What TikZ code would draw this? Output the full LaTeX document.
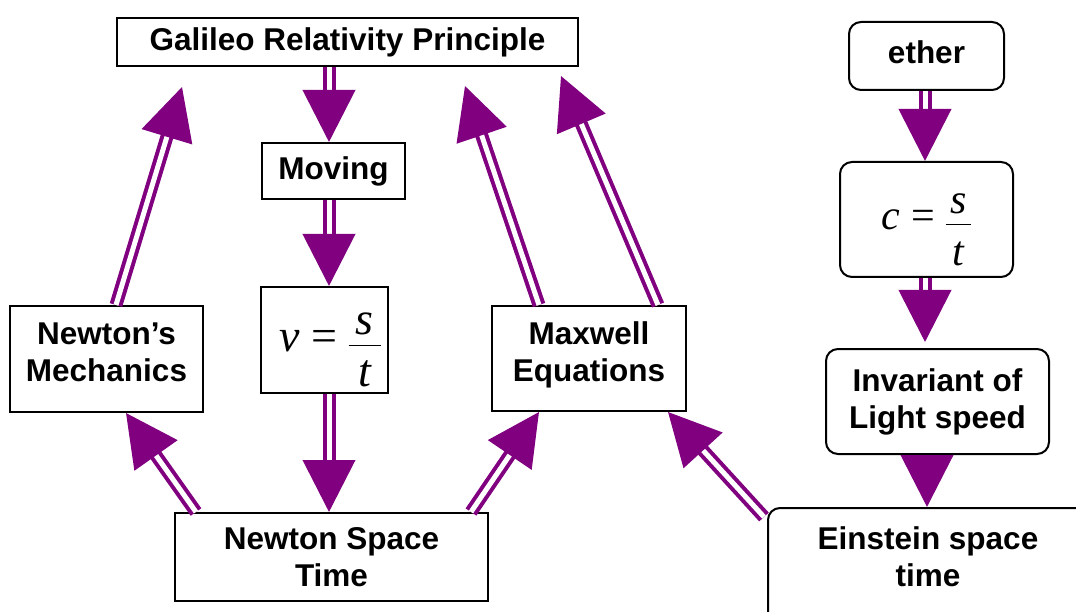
\documentclass[tikz,border=0pt]{standalone}
\usepackage{fontspec}
\setmainfont{Liberation Sans}
\newfontfamily\tms{Liberation Serif}
\usetikzlibrary{arrows.meta}
\definecolor{purp}{HTML}{800080}
\newcommand\myFrac[2]{$\displaystyle\frac{\hbox to #2{\hss\tms\itshape s\hss}}{\hbox to #2{\hss\rule{0pt}{#1}\tms\itshape t\hss}}$}
\begin{document}
\begin{tikzpicture}[x=1pt,y=-1pt,
  box/.style={draw=black, line width=2pt, fill=white, inner sep=0pt, align=center,
    font=\fontsize{31.5}{37}\selectfont\bfseries},
  rbox/.style={box, rounded corners=12pt},
  mbox/.style={draw=black, line width=2pt, fill=white, inner sep=0pt},
  arr/.style={draw=purp, line width=4pt, double=white, double distance=5pt,
    -{Triangle[length=52pt,width=52pt]}}]
\clip (0,0) rectangle (1076,612);
\fill[white] (0,0) rectangle (1076,612);
\node[box, minimum width=461pt, minimum height=48pt] (gal) at (347.5,42) {Galileo Relativity Principle\rule[-4pt]{0pt}{0pt}};
\node[box, minimum width=143pt, minimum height=56pt] (mov) at (333.5,171) {Moving\rule[-3pt]{0pt}{0pt}};
\node[mbox, minimum width=127pt, minimum height=106pt, text height=61pt, text depth=38pt,
  font=\fontsize{46}{52}\selectfont] (vst) at (324.5,340)
  {\hspace*{12pt}{\tms\itshape v}\hspace{12pt}{\tms =}\hspace{10pt}\myFrac{40pt}{32pt}};
\node[box, minimum width=193pt, minimum height=106pt] (nm) at (106.5,359) {Newton’s\\Mechanics\rule[-14pt]{0pt}{0pt}};
\node[box, minimum width=194pt, minimum height=105pt] (mx) at (589,358.5) {Maxwell\\Equations\rule[-14pt]{0pt}{0pt}};
\node[box, minimum width=313pt, minimum height=88pt] (nst) at (331.5,557) {Newton Space\\Time};
\node[rbox, minimum width=155pt, minimum height=68pt] (eth) at (926.5,56) {ether\rule[-8pt]{0pt}{0pt}};
\node[mbox, rounded corners=12pt, minimum width=173pt, minimum height=115pt, text height=59pt, text depth=38pt,
  font=\fontsize{42}{48}\selectfont] (cst) at (926.5,219.5)
  {{\tms\itshape c}\hspace{12pt}{\tms =}\hspace{9pt}\myFrac{40pt}{25pt}};
\node[rbox, minimum width=223pt, minimum height=105pt] (inv) at (937.5,401.5) {Invariant of\\Light speed};
\node[rbox, minimum width=320pt, minimum height=116pt] (ein) at (928,566) {Einstein space\\time\rule[-18pt]{0pt}{0pt}};

\draw[arr] ([xshift=-18.5pt]gal.south) -- ([xshift=-4.5pt]mov.north);
\draw[arr] ([xshift=-4.5pt]mov.south) -- ([xshift=4.5pt]vst.north);
\draw[arr] ([xshift=4.5pt]vst.south) -- ([xshift=-2.5pt]nst.north);
\draw[arr] ([xshift=22pt]nst.north west) -- ([xshift=117pt]nm.south west);
\draw[arr] ([xshift=-18pt]nst.north east) -- ([xshift=48pt]mx.south west);
\draw[arr] ([xshift=107pt]nm.north west) -- ([xshift=66pt,yshift=-20pt]gal.south west);
\draw[arr] ([xshift=48pt]mx.north west) -- ([xshift=-114pt,yshift=-19pt]gal.south east);
\draw[arr] ([xshift=-29pt]mx.north east) -- ([xshift=-18pt,yshift=-9pt]gal.south east);
\draw[arr] ([xshift=-3pt,yshift=-10pt]ein.north west) -- ([xshift=-19pt]mx.south east);
\draw[arr] ([xshift=-1.5pt]eth.south) -- ([xshift=-1.5pt]cst.north);
\draw[arr] ([xshift=-1.5pt]cst.south) -- ([xshift=-12.5pt,yshift=6pt]inv.north);
\draw[arr] ([xshift=-10.5pt]inv.south) -- ([xshift=-1pt]ein.north);
\end{tikzpicture}
\end{document}
